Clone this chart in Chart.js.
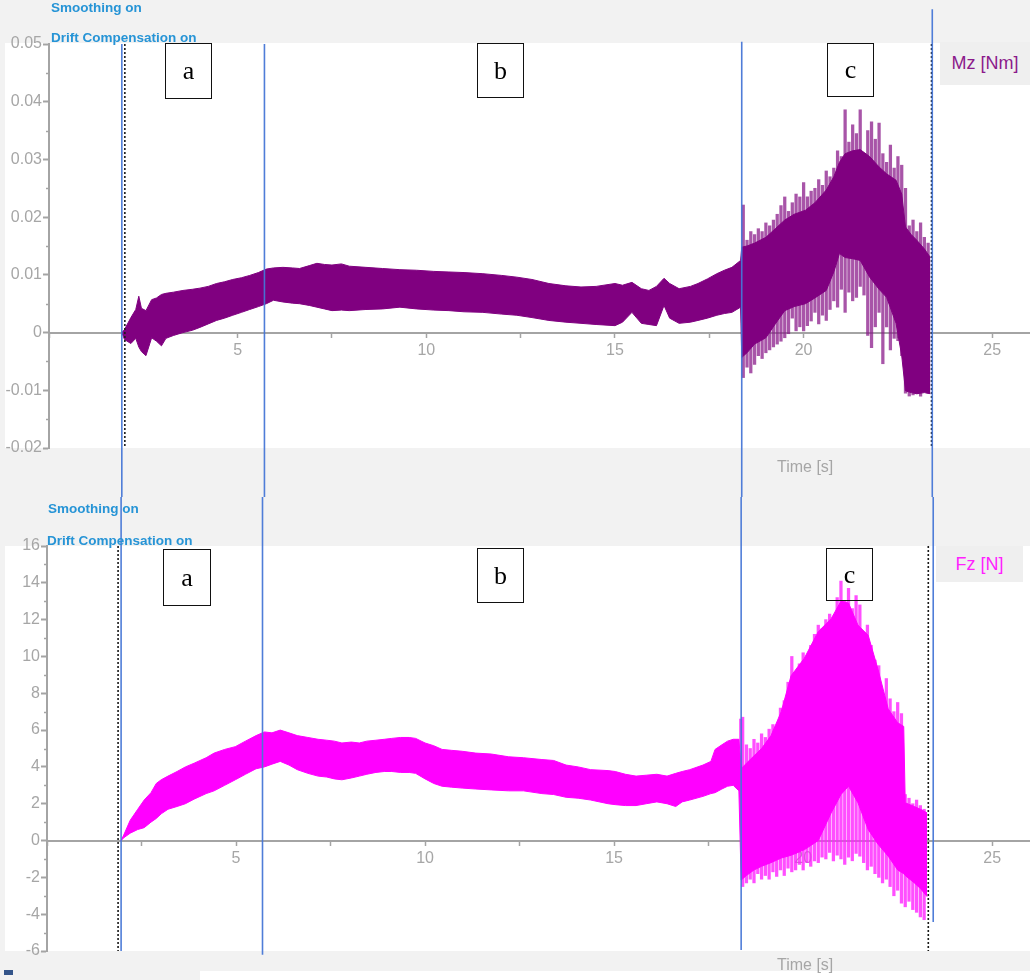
<!DOCTYPE html>
<html>
<head>
<meta charset="utf-8">
<title>Mz / Fz over time</title>
<script src="https://cdn.jsdelivr.net/npm/chart.js@4/dist/chart.umd.min.js"></script>
<style>
  html, body { margin: 0; padding: 0; background: #f2f2f2; }
  #page { position: relative; width: 1030px; height: 980px; overflow: hidden; background: #f2f2f2;
          font-family: "Liberation Sans", Arial, sans-serif; }
  .plotbg { position: absolute; background: #ffffff; }
  canvas { position: absolute; left: 0; }
  .note { position: absolute; color: #2694d6; font-weight: bold; font-size: 13.5px; line-height: 1; white-space: nowrap; }
  .seg { position: absolute; box-sizing: border-box; border: 1.5px solid #111; display: flex; align-items: center;
         justify-content: center; font-family: "Liberation Serif", "Times New Roman", serif; font-size: 26px; color: #000; }
  .legend { position: absolute; background: #efefef; font-size: 18px; display: flex; align-items: center; justify-content: center; }
  .axtitle { position: absolute; color: #a6a6a6; font-size: 16px; line-height: 1; white-space: nowrap; }
</style>
</head>
<body>
<div id="page">
  <div class="plotbg" style="left:5px;top:43px;width:1025px;height:405px;"></div>
  <div class="plotbg" style="left:5px;top:546px;width:1025px;height:405px;"></div>
  <div class="plotbg" style="left:200px;top:971px;width:830px;height:9px;"></div>
  <div style="position:absolute;left:4px;top:970px;width:9px;height:5px;background:#34558a;"></div>

  <canvas id="mzChart" width="1030" height="497" style="top:0px;"></canvas>
  <canvas id="fzChart" width="1030" height="483" style="top:497px;"></canvas>

  <div class="note" style="left:51px;top:1px;">Smoothing on</div>
  <div class="note" style="left:51px;top:31px;">Drift Compensation on</div>
  <div class="note" style="left:48px;top:502px;">Smoothing on</div>
  <div class="note" style="left:47px;top:534px;">Drift Compensation on</div>

  <div class="seg" style="left:165px;top:43px;width:47px;height:56px;">a</div>
  <div class="seg" style="left:477px;top:43px;width:47px;height:55px;">b</div>
  <div class="seg" style="left:827px;top:43px;width:47px;height:54px;">c</div>
  <div class="seg" style="left:163px;top:549px;width:48px;height:57px;">a</div>
  <div class="seg" style="left:477px;top:548px;width:47px;height:55px;">b</div>
  <div class="seg" style="left:826px;top:548px;width:47px;height:53px;background:transparent;">c</div>

  <div class="legend" style="left:940px;top:42px;width:90px;height:43px;color:#8b1a8b;">Mz [Nm]</div>
  <div class="legend" style="left:936px;top:546px;width:87px;height:36px;color:#ff22ff;">Fz [N]</div>

  <div class="axtitle" style="left:777px;top:459px;">Time [s]</div>
  <div class="axtitle" style="left:777px;top:957px;">Time [s]</div>
</div>

<script>
// ---------- shared time axis ----------
const timeTicks = [0, 2.5, 5, 7.5, 10, 12.5, 15, 17.5, 20, 22.5, 25];
const timeTickLabels = ['', '', '5', '', '10', '', '15', '', '20', '', '25'];

// ---------- Mz [Nm] ----------
const mzTicks = [-0.02, -0.01, 0, 0.01, 0.02, 0.03, 0.04, 0.05];
const mzTickLabels = ['-0.02', '-0.01', '0', '0.01', '0.02', '0.03', '0.04', '0.05'];

// envelope of the oscillating torque signal (time in s, upper / lower bound)
const mzTime = [
  1.93, 2.0, 2.17, 2.3, 2.38, 2.45, 2.57, 2.72, 2.85, 2.98,
  3.1, 3.3, 3.55, 3.8, 4.0, 4.22, 4.44, 4.65, 4.87, 5.1,
  5.32, 5.55, 5.76, 5.95, 6.2, 6.45, 6.64, 6.9, 7.1, 7.3,
  7.5, 7.75, 7.96, 8.4, 8.84, 9.3, 9.74, 10.2, 10.6, 11.0,
  11.5, 12.0, 12.4, 12.8, 13.25, 13.7, 14.1, 14.5, 15.0, 15.2,
  15.45, 15.7, 15.9, 16.1, 16.3, 16.45, 16.7, 17.0, 17.2, 17.45,
  17.7, 17.9, 18.1, 18.33, 18.36, 18.5, 18.7, 19.0, 19.25, 19.5,
  19.75, 20.05, 20.3, 20.6, 20.8, 20.95, 21.1, 21.3, 21.5, 21.75,
  22.0, 22.2, 22.45, 22.6, 22.7, 22.85, 23.0, 23.2, 23.36
];
const mzUpper = [
  0, 0.0005, 0.0026, 0.0040, 0.0063, 0.0042, 0.0038, 0.0057, 0.0060, 0.0066,
  0.0068, 0.0070, 0.0073, 0.0075, 0.0077, 0.0080, 0.0085, 0.0088, 0.0092, 0.0095,
  0.0099, 0.0104, 0.0110, 0.0112, 0.0113, 0.0112, 0.0111, 0.0116, 0.0120, 0.0118,
  0.0117, 0.0119, 0.0115, 0.0113, 0.0111, 0.0109, 0.0108, 0.0106, 0.0105, 0.0104,
  0.0102, 0.0099, 0.0096, 0.0092, 0.0085, 0.0081, 0.0079, 0.0080, 0.0085, 0.0082,
  0.0087, 0.0076, 0.0073, 0.0080, 0.0094, 0.0085, 0.0076, 0.0080, 0.0085, 0.0093,
  0.0102, 0.0108, 0.0113, 0.0125, 0.0148, 0.0150, 0.0155, 0.0165, 0.0180, 0.0195,
  0.0205, 0.0212, 0.0225, 0.0247, 0.0270, 0.0295, 0.0310, 0.0315, 0.0317, 0.0305,
  0.0287, 0.0275, 0.0264, 0.0240, 0.0183, 0.0170, 0.0160, 0.0145, 0.0130
];
const mzLower = [
  0, -0.0012, -0.0019, -0.0010, -0.0025, -0.0033, -0.0040, -0.0009, -0.0015, -0.0023,
  -0.0010, -0.0005, 0.0000, 0.0004, 0.0009, 0.0015, 0.0021, 0.0025, 0.0030, 0.0035,
  0.0040, 0.0045, 0.0050, 0.0056, 0.0053, 0.0051, 0.0050, 0.0047, 0.0044, 0.0041,
  0.0038, 0.0039, 0.0038, 0.0040, 0.0041, 0.0044, 0.0041, 0.0039, 0.0038, 0.0036,
  0.0035, 0.0032, 0.0030, 0.0026, 0.0021, 0.0018, 0.0016, 0.0014, 0.0012, 0.0018,
  0.0035, 0.0016, 0.0014, 0.0012, 0.0047, 0.0025, 0.0016, 0.0018, 0.0021, 0.0025,
  0.0030, 0.0033, 0.0035, 0.0044, -0.0043, -0.0035, -0.0020, -0.0009, 0.0015, 0.0038,
  0.0045, 0.0050, 0.0060, 0.0073, 0.0105, 0.0137, 0.0130, 0.0128, 0.0125, 0.0096,
  0.0075, 0.0061, 0.0016, -0.0040, -0.0101, -0.0104, -0.0106, -0.0104, -0.0106
];
// individual peaks in phase c (time, highest, lowest)
const mzPeakTime = [
  18.4, 18.5, 18.6, 18.7, 18.8, 18.9, 19.0, 19.1, 19.2, 19.3,
  19.4, 19.5, 19.6, 19.7, 19.8, 19.9, 20.0, 20.1, 20.2, 20.3,
  20.4, 20.5, 20.6, 20.7, 20.8, 20.9, 21.0, 21.1, 21.2, 21.3,
  21.4, 21.5, 21.6, 21.7, 21.8, 21.9, 22.0, 22.1, 22.2, 22.3,
  22.4, 22.5, 22.6, 22.7, 22.8, 22.9, 23.0, 23.1, 23.2, 23.3
];
const mzPeakHigh = [
  0.0221, 0.0160, 0.0175, 0.0170, 0.0180, 0.0175, 0.0190, 0.0185, 0.0195, 0.0205,
  0.0220, 0.0235, 0.0210, 0.0225, 0.0240, 0.0235, 0.0260, 0.0235, 0.0245, 0.0250,
  0.0265, 0.0255, 0.0280, 0.0270, 0.0285, 0.0315, 0.0305, 0.0386, 0.0330, 0.0360,
  0.0345, 0.0386, 0.0310, 0.0350, 0.0365, 0.0335, 0.0363, 0.0310, 0.0295, 0.0325,
  0.0285, 0.0305, 0.0290, 0.0250, 0.0185, 0.0195, 0.0175, 0.0190, 0.0165, 0.0155
];
const mzPeakLow = [
  -0.0078, -0.0060, -0.0070, -0.0055, -0.0040, -0.0045, -0.0035, -0.0030, -0.0025, -0.0020,
  -0.0015, -0.0009, -0.0002, 0.0025, 0.0003, 0.0010, 0.0003, 0.0012, 0.0020, 0.0035,
  0.0015, 0.0030, 0.0021, 0.0040, 0.0055, 0.0044, 0.0075, 0.0035, 0.0070, 0.0055,
  0.0061, 0.0080, 0.0065, -0.0005, -0.0026, 0.0010, 0.0035, -0.0054, 0.0010, -0.0030,
  -0.0010, -0.0014, -0.0040, -0.0105, -0.0110, -0.0108, -0.0106, -0.0110, -0.0098, -0.0105
];
// phase boundaries a | b | c and the evaluation window (s)
const mzPhaseEdges = [1.93, 5.71, 18.36, 23.41];
const mzWindow = [2.01, 23.39];

// ---------- Fz [N] ----------
const fzTicks = [-6, -4, -2, 0, 2, 4, 6, 8, 10, 12, 14, 16];
const fzTickLabels = ['-6', '-4', '-2', '0', '2', '4', '6', '8', '10', '12', '14', '16'];

const fzTime = [
  1.96, 2.03, 2.2, 2.4, 2.57, 2.75, 2.89, 3.02, 3.2, 3.44,
  3.66, 3.89, 4.21, 4.42, 4.7, 4.98, 5.25, 5.53, 5.75, 5.95,
  6.17, 6.4, 6.62, 6.9, 7.17, 7.4, 7.6, 7.8, 8.05, 8.26,
  8.46, 8.7, 8.92, 9.12, 9.35, 9.58, 9.75, 10.0, 10.23, 10.45,
  10.7, 10.98, 11.34, 11.75, 12.21, 12.6, 13.09, 13.4, 13.73, 14.05,
  14.38, 14.84, 15.03, 15.3, 15.58, 15.85, 16.13, 16.4, 16.63, 16.8,
  17.0, 17.35, 17.56, 17.67, 17.85, 18.0, 18.15, 18.3, 18.36, 18.5,
  18.7, 18.9, 19.15, 19.42, 19.68, 20.03, 20.4, 20.74, 21.0, 21.2,
  21.45, 21.72, 21.98, 22.25, 22.5, 22.66, 22.7, 22.94, 23.1, 23.28
];
const fzUpper = [
  0, 0.3, 1.1, 1.7, 2.2, 2.6, 3.1, 3.3, 3.5, 3.75,
  4.0, 4.2, 4.5, 4.75, 4.95, 5.1, 5.4, 5.7, 5.9, 5.85,
  6.0, 5.85, 5.7, 5.6, 5.5, 5.45, 5.4, 5.3, 5.35, 5.3,
  5.4, 5.45, 5.5, 5.55, 5.6, 5.6, 5.55, 5.3, 5.15, 4.95,
  4.9, 4.85, 4.75, 4.7, 4.55, 4.5, 4.4, 4.35, 4.1, 4.0,
  3.85, 3.8, 3.75, 3.6, 3.5, 3.55, 3.6, 3.5, 3.65, 3.75,
  3.85, 4.1, 4.3, 4.95, 5.2, 5.4, 5.5, 5.5, 3.9, 4.2,
  4.6, 5.0, 5.7, 7.0, 8.95, 9.9, 11.35, 12.05, 13.0, 12.9,
  11.7, 11.15, 9.3, 7.15, 6.4, 6.2, 2.05, 1.85, 1.7, 1.5
];
const fzLower = [
  0, 0.15, 0.4, 0.6, 0.7, 1.0, 1.2, 1.45, 1.7, 1.85,
  2.0, 2.25, 2.55, 2.7, 3.0, 3.3, 3.6, 3.9, 4.0, 4.15,
  4.3, 4.1, 3.85, 3.65, 3.5, 3.45, 3.35, 3.3, 3.4, 3.5,
  3.6, 3.7, 3.75, 3.75, 3.7, 3.7, 3.65, 3.35, 3.1, 2.95,
  2.9, 2.85, 2.8, 2.75, 2.7, 2.7, 2.55, 2.5, 2.35, 2.3,
  2.2, 2.0, 1.95, 1.9, 1.9, 2.0, 2.1, 2.0, 1.85, 2.1,
  2.2, 2.4, 2.55, 2.6, 2.8, 2.95, 3.0, 2.7, -2.15, -1.9,
  -1.6, -1.4, -1.2, -0.95, -0.8, -0.5, 0.0, 1.5, 2.5, 2.95,
  2.05, 0.6, -0.2, -0.85, -1.6, -1.8, -1.9, -2.3, -2.6, -3.05
];
const fzPeakTime = [
  18.35, 18.4, 18.5, 18.6, 18.7, 18.8, 18.9, 19.0, 19.1, 19.2,
  19.3, 19.4, 19.5, 19.6, 19.7, 19.8, 19.9, 20.0, 20.1, 20.2,
  20.3, 20.4, 20.5, 20.6, 20.7, 20.8, 20.9, 21.0, 21.1, 21.2,
  21.3, 21.4, 21.5, 21.6, 21.7, 21.8, 21.9, 22.0, 22.1, 22.2,
  22.3, 22.4, 22.5, 22.6, 22.7, 22.8, 22.9, 23.0, 23.1, 23.2
];
const fzPeakHigh = [
  6.6, 6.7, 5.2, 5.0, 5.5, 5.3, 5.8, 5.6, 6.05, 6.3,
  5.9, 7.2, 7.6, 8.6, 10.0, 9.1, 9.6, 10.2, 9.8, 10.6,
  11.2, 11.7, 11.5, 12.0, 12.3, 12.1, 13.2, 14.1, 13.0, 13.7,
  12.6, 13.3, 12.8, 11.0, 11.7, 10.6, 9.8, 9.5, 8.0, 8.8,
  7.7, 7.0, 7.5, 6.9, 2.5, 2.3, 2.0, 2.2, 1.9, 1.7
];
const fzPeakLow = [
  2.7, -2.5, -2.3, -2.1, -2.3, -1.8, -2.1, -1.9, -2.1, -1.7,
  -1.95, -1.6, -1.9, -1.5, -1.7, -1.6, -1.3, -1.6, -1.2, -1.4,
  -1.1, -1.2, -0.9, -1.0, -0.65, -1.1, -0.8, -1.0, -1.3, -0.9,
  -1.1, -0.7, -0.85, -1.2, -1.6, -1.4, -1.8, -2.0, -2.3, -2.1,
  -2.5, -3.0, -2.7, -3.4, -3.6, -3.3, -3.75, -3.9, -4.15, -4.3
];
const fzPhaseEdges = [1.96, 5.70, 18.36, 23.44];
const fzWindow = [1.88, 23.31];

// ---------- drawing helpers ----------
const AXIS_GREY = '#a4a4a4';
const LABEL_GREY = '#a6a6a6';
const FONT = '"Liberation Sans", Arial, sans-serif';

// phase boundaries, window markers and minor ticks
const phaseMarks = {
  id: 'phaseMarks',
  afterDraw(chart, args, o) {
    const { ctx, scales: { x, y }, chartArea } = chart;
    ctx.save();
    // minor ticks on the value axis
    ctx.strokeStyle = AXIS_GREY;
    ctx.lineWidth = 1.5;
    const t = o.majorTicks;
    for (let i = 1; i < t.length; i++) {
      const py = Math.round(y.getPixelForValue((t[i - 1] + t[i]) / 2)) + 0.5;
      ctx.beginPath();
      ctx.moveTo(chartArea.left - 3, py);
      ctx.lineTo(chartArea.left, py);
      ctx.stroke();
    }
    // dotted evaluation window
    ctx.setLineDash([2, 2]);
    ctx.strokeStyle = '#1a1a1a';
    ctx.lineWidth = 1.6;
    o.window.forEach(tv => {
      const px = x.getPixelForValue(tv);
      ctx.beginPath();
      ctx.moveTo(px, chartArea.top);
      ctx.lineTo(px, chartArea.bottom);
      ctx.stroke();
    });
    // phase boundaries
    ctx.setLineDash([]);
    ctx.strokeStyle = 'rgba(70,118,214,0.95)';
    ctx.lineWidth = 1.6;
    o.edges.forEach((tv, i) => {
      const px = x.getPixelForValue(tv);
      const y1 = o.from[i] === null ? 0 : y.getPixelForValue(o.from[i]);
      const y2 = o.to[i] === null ? chart.height : y.getPixelForValue(o.to[i]);
      ctx.beginPath();
      ctx.moveTo(px, y1);
      ctx.lineTo(px, y2);
      ctx.stroke();
    });
    ctx.restore();
  }
};

function buildPanel(id, p) {
  const pts = (xs, ys) => xs.map((t, i) => ({ x: t, y: ys[i] }));
  return new Chart(document.getElementById(id), {
    type: 'line',
    data: {
      datasets: [
        { label: p.name + ' max', data: pts(p.time, p.upper), borderColor: p.color, borderWidth: 1,
          pointRadius: 0, fill: false, tension: 0, order: 0 },
        { label: p.name + ' min', data: pts(p.time, p.lower), borderColor: p.color, backgroundColor: p.color,
          borderWidth: 1, pointRadius: 0, fill: '-1', tension: 0, order: 1 },
        { type: 'bar', label: p.name + ' peaks',
          data: p.peakTime.map((t, i) => ({ x: t, y: [p.peakLow[i], p.peakHigh[i]] })),
          backgroundColor: p.peakColor, borderWidth: 0, barThickness: 2.6, grouped: false, order: 2 }
      ]
    },
    options: {
      responsive: false,
      animation: false,
      devicePixelRatio: 1,
      events: [],
      layout: { padding: { top: p.padTop, bottom: p.padBottom, left: 0, right: 0 } },
      plugins: {
        legend: { display: false },
        tooltip: { enabled: false },
        title: { display: false },
        phaseMarks: { majorTicks: p.ticks, window: p.window, edges: p.edges, from: p.edgeFrom, to: p.edgeTo }
      },
      scales: {
        x: {
          type: 'linear', min: 0, max: 26, offset: false, position: { y: 0 },
          afterBuildTicks: s => { s.ticks = timeTicks.map(v => ({ value: v })); },
          ticks: { autoSkip: false, maxRotation: 0, padding: 4, color: LABEL_GREY,
                   font: { family: FONT, size: 16 }, callback: (v, i) => timeTickLabels[i] },
          grid: { offset: false, drawOnChartArea: false, drawTicks: true, tickLength: 4,
                  tickColor: AXIS_GREY, tickWidth: 1.5 },
          border: { display: true, color: AXIS_GREY, width: 2 }
        },
        y: {
          type: 'linear', min: p.ticks[0], max: p.ticks[p.ticks.length - 1], offset: false, position: 'left',
          afterFit: s => { s.width = p.axisLeft; },
          afterBuildTicks: s => { s.ticks = p.ticks.map(v => ({ value: v })); },
          ticks: { autoSkip: false, padding: 1, color: LABEL_GREY,
                   font: { family: FONT, size: 16 }, callback: (v, i) => p.tickLabels[i] },
          grid: { offset: false, drawOnChartArea: false, drawTicks: true, tickLength: 6,
                  tickColor: AXIS_GREY, tickWidth: 2 },
          border: { display: true, color: AXIS_GREY, width: 2 }
        }
      }
    },
    plugins: [phaseMarks]
  });
}

buildPanel('mzChart', {
  name: 'Mz [Nm]', color: '#800080', peakColor: 'rgba(135,20,135,0.72)',
  time: mzTime, upper: mzUpper, lower: mzLower,
  peakTime: mzPeakTime, peakHigh: mzPeakHigh, peakLow: mzPeakLow,
  ticks: mzTicks, tickLabels: mzTickLabels,
  window: mzWindow, edges: mzPhaseEdges,
  edgeFrom: [0.05, 0.05, 0.0504, 0.056], edgeTo: [null, null, null, null],
  padTop: 44, padBottom: 49, axisLeft: 49
});

buildPanel('fzChart', {
  name: 'Fz [N]', color: '#ff00ff', peakColor: 'rgba(255,30,255,0.78)',
  time: fzTime, upper: fzUpper, lower: fzLower,
  peakTime: fzPeakTime, peakHigh: fzPeakHigh, peakLow: fzPeakLow,
  ticks: fzTicks, tickLabels: fzTickLabels,
  window: fzWindow, edges: fzPhaseEdges,
  edgeFrom: [null, null, null, null], edgeTo: [-6, -6.2, -5.95, -4.42],
  padTop: 49, padBottom: 29, axisLeft: 47
});
</script>
</body>
</html>
